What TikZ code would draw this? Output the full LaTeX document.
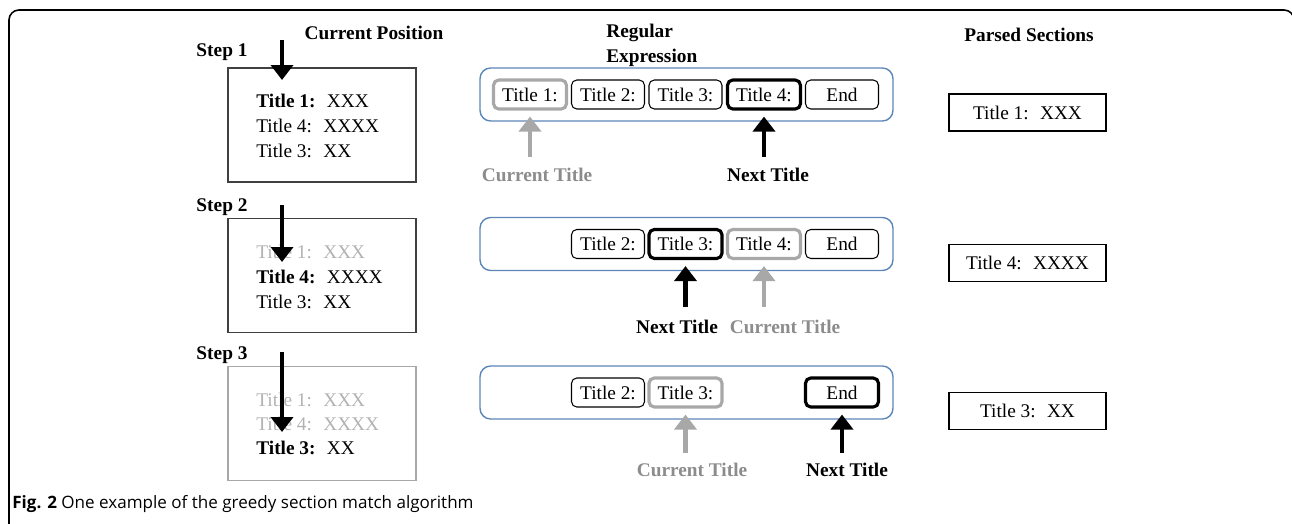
\documentclass[tikz,border=0pt]{standalone}
\usepackage{fontspec}
\setmainfont{Liberation Serif}
\newfontfamily\capfont{Open Sans}
\usetikzlibrary{arrows.meta}

\definecolor{rexblue}{RGB}{92,134,184}
\definecolor{fade}{RGB}{168,168,168}
\definecolor{curgray}{RGB}{140,140,140}
\definecolor{oldtext}{RGB}{178,178,178}

\tikzset{
  txt/.style      = {font=\fontsize{11}{13}\selectfont, inner sep=0pt},
  head/.style     = {font=\bfseries\fontsize{11}{14.2}\selectfont, inner sep=0pt},
  titlebox/.style = {txt, draw, rounded corners=3pt, line width=0.6pt,
                     minimum width=1.46cm, minimum height=0.58cm},
  nextbox/.style  = {titlebox, line width=1.8pt},
  curbox/.style   = {titlebox, draw=fade, line width=1.8pt},
  rexbox/.style   = {draw=rexblue, rounded corners=6pt, line width=0.8pt,
                     minimum width=8.26cm, minimum height=1.06cm},
  posbox/.style   = {draw=black!75, line width=0.7pt,
                     minimum width=3.76cm, minimum height=2.28cm},
  parsebox/.style = {txt, draw, line width=0.7pt,
                     minimum width=3.14cm, minimum height=0.74cm},
  line/.style     = {txt, anchor=west},
  nextarr/.style  = {-{Triangle[width=0.44cm,length=0.3cm]}, line width=2.8pt},
  curarr/.style   = {nextarr, fade},
  up/.style       = {shorten >=0.12cm},
}

\begin{document}
\begin{tikzpicture}[x=0.02cm, y=-0.02cm]
        \useasboundingbox (0,0) rectangle (1292,524);

        % Frame
        \draw[line width=0.9pt, rounded corners=0.2cm]
                        (9,540) -- (9,10) -- (1294,10) -- (1294,540);

        % Headers
        \node[head] (hpos)   at (374, 33) {Current Position};
        \node[head, anchor=west, align=left] (hrex) at (606, 45.5) {Regular\\Expression};
        \node[head] (hparse) at (1029, 35) {Parsed Sections};

        % Step 1
        \node[head] (s1)  at (222, 52) {Step 1};
        \node[posbox] (pb1) at (322, 125) {};
        \node[line] (l11) at (256, 101) {\textbf{Title 1:}~ XXX};
        \node[line] (l12) at (256, 126) {Title 4:~ XXXX};
        \node[line] (l13) at (256, 151) {Title 3:~ XX};
        \coordinate (p1a) at (282, 40);
        \coordinate (p1b) at (282, 80);
        \draw[nextarr]  (p1a) -- (p1b);

        \node[rexbox]   (rx1)  at (686.5, 94.5) {};
        \node[curbox]   (r1t1) at (530, 94.5)   {Title 1:};
        \node[titlebox] (r1t2) at (608, 94.5)   {Title 2:};
        \node[titlebox] (r1t3) at (685.5, 94.5) {Title 3:};
        \node[nextbox]  (r1t4) at (764, 94.5)   {Title 4:};
        \node[titlebox] (r1e)  at (842, 94.5)   {End};

        \coordinate (c1) at (530, 157);
        \coordinate (n1) at (764, 157);
        \draw[curarr, up]  (c1) -- (r1t1);
        \draw[nextarr, up] (n1) -- (r1t4);
        \node[head, text=curgray] (cl1) at (537, 175) {Current Title};
        \node[head]               (nl1) at (768, 175) {Next Title};

        \node[parsebox] (ps1) at (1027.5, 112.5) {Title 1:~ XXX};

        % Step 2
        \node[head] (s2)  at (222, 207) {Step 2};
        \node[posbox] (pb2) at (322, 275.5) {};
        \node[line, text=oldtext] (l21) at (256, 252) {Title 1:~ XXX};
        \node[line] (l22) at (256, 277) {\textbf{Title 4:}~ XXXX};
        \node[line] (l23) at (256, 302) {Title 3:~ XX};
        \coordinate (p2a) at (282, 205);
        \coordinate (p2b) at (282, 262);
        \draw[nextarr]  (p2a) -- (p2b);

        \node[rexbox]   (rx2)  at (686.5, 244) {};
        \node[titlebox] (r2t2) at (608, 244)   {Title 2:};
        \node[nextbox]  (r2t3) at (685.5, 244) {Title 3:};
        \node[curbox]   (r2t4) at (764, 244)   {Title 4:};
        \node[titlebox] (r2e)  at (842, 244)   {End};

        \coordinate (n2) at (685.5, 307);
        \coordinate (c2) at (764, 307);
        \draw[nextarr, up] (n2) -- (r2t3);
        \draw[curarr, up]  (c2) -- (r2t4);
        \node[head]               (nl2) at (677, 327) {Next Title};
        \node[head, text=curgray] (cl2) at (785, 327) {Current Title};

        \node[parsebox] (ps2) at (1027.5, 263) {Title 4:~ XXXX};

        % Step 3
        \node[head] (s3)  at (222, 355) {Step 3};
        \node[posbox, draw=fade] (pb3) at (322, 423.5) {};
        \node[line, text=oldtext] (l31) at (256, 400) {Title 1:~ XXX};
        \node[line, text=oldtext] (l32) at (256, 424) {Title 4:~ XXXX};
        \node[line] (l33) at (256, 448) {\textbf{Title 3:}~ XX};
        \coordinate (p3a) at (282, 352);
        \coordinate (p3b) at (282, 432);
        \draw[nextarr]  (p3a) -- (p3b);

        \node[rexbox]   (rx3)  at (686.5, 392.5) {};
        \node[titlebox] (r3t2) at (608, 392.5)   {Title 2:};
        \node[curbox]   (r3t3) at (685.5, 392.5) {Title 3:};
        \node[nextbox]  (r3e)  at (842, 392.5)   {End};

        \coordinate (c3) at (685.5, 453);
        \coordinate (n3) at (842, 453);
        \draw[curarr, up]  (c3) -- (r3t3);
        \draw[nextarr, up] (n3) -- (r3e);
        \node[head, text=curgray] (cl3) at (692, 470) {Current Title};
        \node[head]               (nl3) at (847, 470) {Next Title};

        \node[parsebox] (ps3) at (1027.5, 411) {Title 3:~ XX};

        % Caption
        \node[anchor=west, inner sep=0pt, font=\capfont\fontsize{9.7}{12}\selectfont] (cap)
                        at (12, 504) {\textbf{Fig. 2} One example of the greedy section match algorithm};
        \end{tikzpicture}
\end{document}
